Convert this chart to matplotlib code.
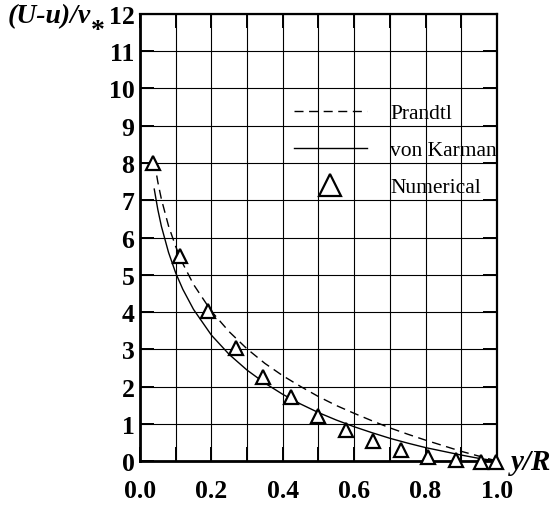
import matplotlib
matplotlib.use("Agg")
from matplotlib import pyplot as plt
from matplotlib.ticker import MultipleLocator

plt.rcParams['font.family'] = ['Liberation Serif', 'DejaVu Serif']

# numerical points
x_num = [0.037, 0.112, 0.191, 0.268, 0.345, 0.422, 0.499, 0.577, 0.653, 0.731, 0.808, 0.884, 0.955, 0.998]
y_num = [8.0, 5.5, 4.02, 3.03, 2.26, 1.72, 1.21, 0.82, 0.54, 0.30, 0.11, 0.02, -0.03, -0.03]

# Prandtl (dashed)
x_pr = [0.04, 0.05, 0.06, 0.08, 0.10, 0.12, 0.15, 0.20, 0.25, 0.30, 0.35, 0.40, 0.45, 0.50,
        0.55, 0.60, 0.65, 0.70, 0.75, 0.80, 0.85, 0.90, 0.95, 1.0]
y_pr = [8.05, 7.49, 7.03, 6.31, 5.76, 5.30, 4.74, 4.02, 3.47, 3.01, 2.62, 2.29, 2.00, 1.73,
        1.49, 1.28, 1.08, 0.89, 0.72, 0.56, 0.41, 0.26, 0.13, 0.0]

# von Karman (solid)
x_vk = [0.04, 0.05, 0.06, 0.08, 0.10, 0.12, 0.15, 0.20, 0.25, 0.30, 0.35, 0.40, 0.45, 0.50,
        0.55, 0.60, 0.65, 0.70, 0.75, 0.80, 0.85, 0.90, 0.95, 1.0]
y_vk = [7.30, 6.75, 6.30, 5.60, 5.05, 4.61, 4.07, 3.38, 2.86, 2.44, 2.09, 1.79, 1.53, 1.30,
        1.10, 0.92, 0.76, 0.61, 0.48, 0.36, 0.26, 0.16, 0.07, 0.0]

fig = plt.figure(figsize=(5.5, 5.1), dpi=100)
ax = fig.add_axes([0.2545, 0.0941, 0.649, 0.8765])

ax.plot(x_pr, y_pr, c='k', lw=1.0, dashes=(6.5, 4), label='Prandtl')
ax.plot(x_vk, y_vk, c='k', lw=1.0, label='von Karman')
ax.plot(x_num, y_num, lw=0, marker='^', ms=9.5, mfc='w', mec='k', mew=1.6,
        clip_on=False, zorder=5, label='Numerical')

ax.set_xlim(0, 1.0)
ax.set_ylim(0, 12)
ax.xaxis.set_major_locator(MultipleLocator(0.2))
ax.xaxis.set_minor_locator(MultipleLocator(0.1))
ax.yaxis.set_major_locator(MultipleLocator(1))
ax.set_xticklabels(['{:.1f}'.format(v) for v in ax.get_xticks()])

ax.grid(True, which='both', color='k', lw=0.8)
ax.tick_params(which='both', direction='in', length=10, width=1.4,
               top=True, right=True)
ax.tick_params(axis='x', pad=13, labelsize=18.5)
ax.tick_params(axis='y', pad=4, labelsize=18.5)
for lab in ax.get_xticklabels() + ax.get_yticklabels():
    lab.set_fontweight('bold')

for side in ['left', 'bottom']:
    ax.spines[side].set_linewidth(2)
for side in ['top', 'right']:
    ax.spines[side].set_linewidth(1.6)

ax.legend(loc='upper left', bbox_to_anchor=(0.431, 0.80), frameon=False,
          fontsize=15.5, handlelength=3.4, handletextpad=1.07, labelspacing=0.78,
          borderpad=0, borderaxespad=0, numpoints=1, markerscale=1.7)

fig.text(8 / 550, 1 - 23 / 510, '(U-u)/v', fontsize=20, fontweight='bold',
         fontstyle='italic', va='baseline', ha='left')
fig.text(98 / 550, 1 - 31 / 510, '*', fontsize=20, fontweight='bold',
         va='center', ha='center')
fig.text(511 / 550, 1 - 463 / 510, 'y/R', fontsize=21, fontweight='bold',
         fontstyle='italic', va='center', ha='left')

plt.savefig('out.png')
